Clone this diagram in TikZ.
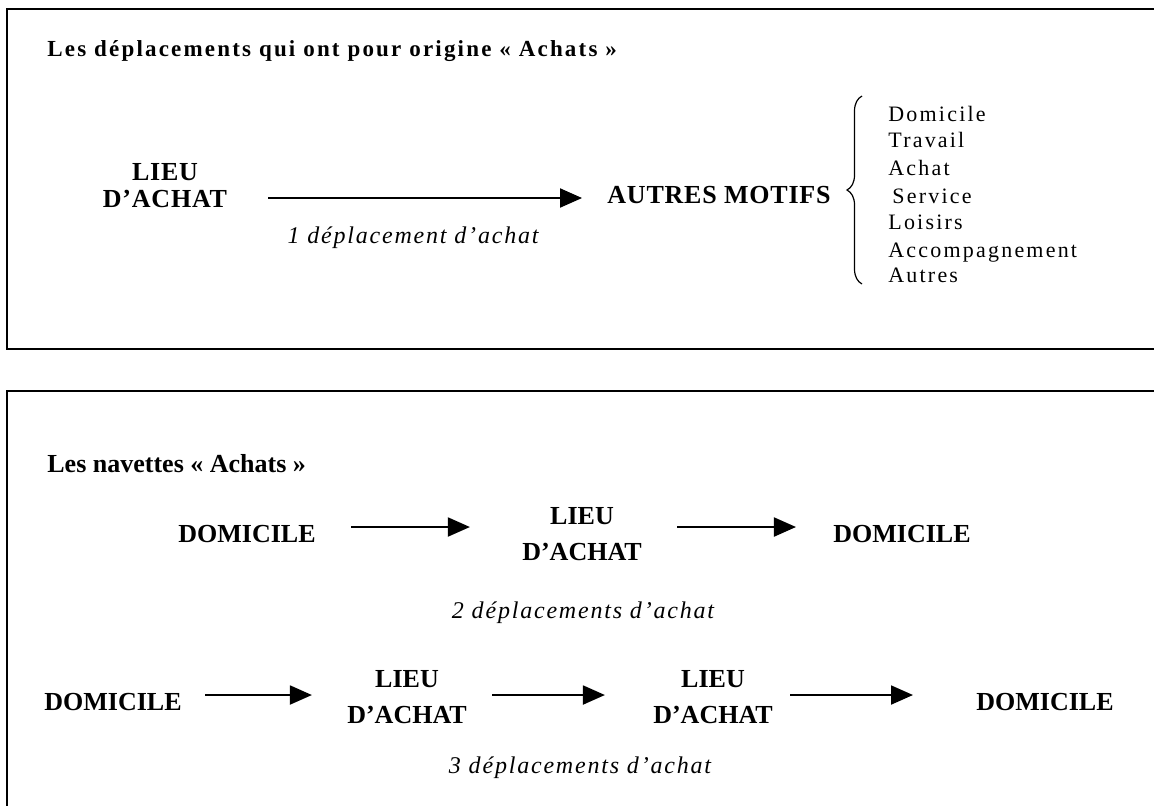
\documentclass[tikz,border=0pt]{standalone}
\usepackage{fontspec}
\setmainfont{Liberation Serif}
\usepackage{tikz}
\usetikzlibrary{arrows.meta}
\usetikzlibrary{decorations.pathreplacing}

\begin{document}
\begin{tikzpicture}[x=0.5pt,y=-0.5pt,
 cadre/.style={line width=1.2pt},
 titre/.style={anchor=base west,inner sep=0pt,font=\bfseries\fontsize{11.5}{13}\selectfont\addfontfeature{LetterSpace=9.5}},
 titrenav/.style={anchor=base west,inner sep=0pt,font=\bfseries\fontsize{13}{15}\selectfont},
 lieu/.style={align=center,inner sep=0pt,font=\bfseries\fontsize{13}{13.5}\selectfont\addfontfeature{LetterSpace=3}},
 lieunav/.style={align=center,inner sep=0pt,font=\bfseries\fontsize{13}{18}\selectfont},
 nb/.style={anchor=base,inner sep=0pt,font=\itshape\fontsize{12}{14}\selectfont\addfontfeature{LetterSpace=7.5}},
 motif/.style={anchor=base west,inner sep=0pt,font=\fontsize{11}{13}\selectfont\addfontfeature{LetterSpace=10}},
 fleche/.style={line width=1pt,-{Triangle[length=11pt,width=9.5pt]}}]
 \useasboundingbox (0,0) rectangle (1154,805);
 \clip (0,0) rectangle (1154,805);
 \draw[cadre] (7,9) rectangle (1170,349);
 \draw[cadre] (7,391) rectangle (1170,815);
 %%%%%%%%%%%%%%%%%%%%%%%%%%%%%%%%%%% origine achats
 \node[titre] (titreA) at (47,56) {Les déplacements qui ont pour origine «~Achats~»};
 \node[lieu] (lieuA) at (165,186) {LIEU\\D’ACHAT};
 \node[lieu,anchor=base] (autres) at (719,203) {AUTRES MOTIFS};
 \coordinate (rA) at (0,198);
 \draw[fleche,shorten <=20.5pt,shorten >=12.5pt] (lieuA.east |- rA) -- (autres.west |- rA);
 \node[nb] (nbA) at (413,243) {1 déplacement d’achat};
 \draw[line width=0.6pt,decorate,decoration={brace,amplitude=7.5pt}] (862,284) -- (862,96);
 \node[motif] (m1) at (888,121) {Domicile};
 \node[motif] (m2) at (888,147) {Travail};
 \node[motif] (m3) at (888,175) {Achat};
 \node[motif] (m4) at (892,203) {Service};
 \node[motif] (m5) at (888,229) {Loisirs};
 \node[motif] (m6) at (888,257) {Accompagnement};
 \node[motif] (m7) at (888,282) {Autres};
 %%%%%%%%%%%%%%%%%%%%%%%%%%%%%%%%%%% navettes
 \node[titrenav] (titreB) at (47,472) {Les navettes «~Achats~»};
 \node[lieunav,anchor=base] (domB) at (247,542) {DOMICILE};
 \node[lieunav] (lieuB) at (582,534) {LIEU\\D’ACHAT};
 \node[lieunav,anchor=base] (domBB) at (902,542) {DOMICILE};
 \coordinate (rB) at (0,527);
 \draw[fleche,shorten <=17.5pt,shorten >=26pt] (domB.east |- rB) -- (lieuB.west |- rB);
 \draw[fleche,shorten <=17.5pt,shorten >=18.5pt] (lieuB.east |- rB) -- (domBB.west |- rB);
 \node[nb] (nbB) at (583,618) {2 déplacements d’achat};
 %%%%%%%%%%%%%%%%%%%%%%%%%%%%%%%%%%%
 \node[lieunav,anchor=base] (domC) at (113,710) {DOMICILE};
 \node[lieunav] (lieuC) at (407,697) {LIEU\\D’ACHAT};
 \node[lieunav] (lieuCC) at (713,697) {LIEU\\D’ACHAT};
 \node[lieunav,anchor=base] (domCC) at (1045,710) {DOMICILE};
 \coordinate (rC) at (0,695);
 \draw[fleche,shorten <=11.5pt,shorten >=17.5pt] (domC.east |- rC) -- (lieuC.west |- rC);
 \draw[fleche,shorten <=12.5pt,shorten >=24pt] (lieuC.east |- rC) -- (lieuCC.west |- rC);
 \draw[fleche,shorten <=8.5pt,shorten >=31.5pt] (lieuCC.east |- rC) -- (domCC.west |- rC);
 \node[nb] (nbC) at (580,773) {3 déplacements d’achat};

\end{tikzpicture}
\end{document}
